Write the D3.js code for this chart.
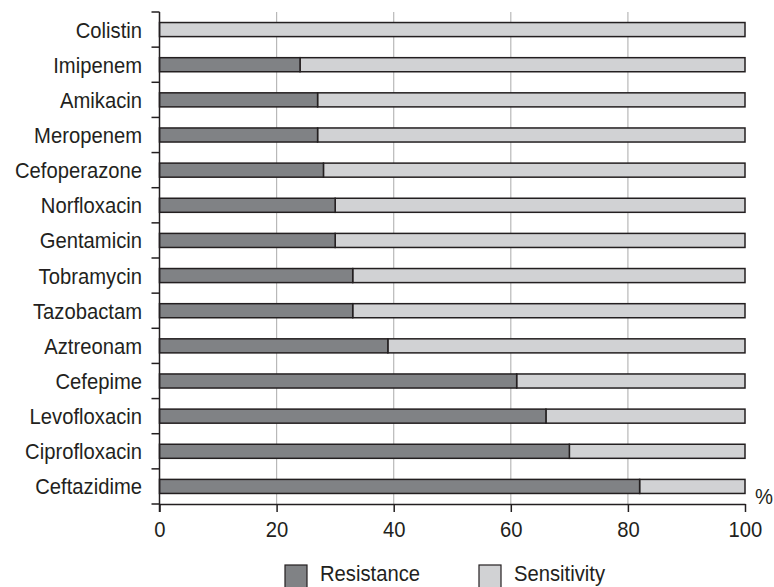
<!DOCTYPE html>
<html><head><meta charset="utf-8">
<script src="https://cdn.jsdelivr.net/npm/d3@7"></script>
<style>body{margin:0;background:#fff;overflow:hidden}svg{display:block}text{font-family:"Liberation Sans",Arial,sans-serif;fill:#231f20}</style>
</head><body><svg id="c" width="774" height="587"></svg>
<script>
const categories = ["Colistin","Imipenem","Amikacin","Meropenem","Cefoperazone","Norfloxacin","Gentamicin","Tobramycin","Tazobactam","Aztreonam","Cefepime","Levofloxacin","Ciprofloxacin","Ceftazidime"];
const resistance = [0,24,27,27,28,30,30,33,33,39,61,66,70,82];
const sensitivity = resistance.map(r => 100 - r);
const xTicks = [0,20,40,60,80,100];
const seriesNames = ["Resistance","Sensitivity"];
const colors = ["#808285","#d1d2d4"];

(function(){
const svg = d3.select("#c");
const FS = 22, SX = 0.92;
const left = 159.5, right = 745, pTop = 12, pBottom = 504;
const x = d3.scaleLinear().domain([0,100]).range([left,right]);
const y = d3.scaleBand().domain(categories).range([pTop,pBottom]).paddingInner(0.6).paddingOuter(0.3);
const yb = d3.scaleBand().domain(categories).range([pTop,pBottom]);

svg.append("g").selectAll("line").data(xTicks.filter(t=>t>0&&t<100)).join("line")
  .attr("x1",d=>x(d)).attr("x2",d=>x(d)).attr("y1",pTop).attr("y2",pBottom)
  .attr("stroke","#b8b8b8").attr("stroke-width",1.2);

const rows = categories.map((c,i)=>({c, r:resistance[i], s:sensitivity[i]}));
const g = svg.append("g");
g.selectAll("rect.s").data(rows).join("rect").attr("class","s")
  .attr("x",d=>x(d.r)).attr("width",d=>x(100)-x(d.r))
  .attr("y",d=>y(d.c)).attr("height",y.bandwidth())
  .attr("fill",colors[1]).attr("stroke","#231f20").attr("stroke-width",1.5);
g.selectAll("rect.r").data(rows.filter(d=>d.r>0)).join("rect").attr("class","r")
  .attr("x",x(0)).attr("width",d=>x(d.r)-x(0))
  .attr("y",d=>y(d.c)).attr("height",y.bandwidth())
  .attr("fill",colors[0]).attr("stroke","#231f20").attr("stroke-width",1.5);

const ya = svg.append("g");
ya.append("line").attr("x1",left).attr("x2",left).attr("y1",pTop).attr("y2",pBottom+8).attr("stroke","#231f20").attr("stroke-width",1.5);
const bounds = categories.map(c=>yb(c)).concat([pBottom]);
ya.selectAll("line.t").data(bounds).join("line").attr("class","t")
  .attr("x1",left-8).attr("x2",left).attr("y1",d=>d).attr("y2",d=>d)
  .attr("stroke","#231f20").attr("stroke-width",1.5);
ya.selectAll("text").data(categories).join("text")
  .attr("transform",d=>`translate(${left-17.5},${yb(d)+yb.bandwidth()/2+8}) scale(${SX},1)`)
  .attr("text-anchor","end").attr("font-size",FS).text(d=>d);

const xa = svg.append("g").attr("transform",`translate(0,${pBottom})`)
  .call(d3.axisBottom(x).tickValues(xTicks).tickSize(8).tickPadding(9.5).tickSizeOuter(0));
xa.select(".domain").attr("stroke","#231f20").attr("stroke-width",1.5);
xa.selectAll(".tick line").attr("stroke","#231f20").attr("stroke-width",1.5);
xa.selectAll(".tick text").attr("font-size",FS).attr("font-family","Liberation Sans, Arial, sans-serif")
  .attr("fill","#231f20").attr("transform",`scale(${SX},1)`);
svg.append("text").attr("transform",`translate(755,504) scale(${SX},1)`).attr("font-size",FS).text("%");

const lg = svg.append("g");
const lx = [285, 479];
seriesNames.forEach((n,i)=>{
  lg.append("rect").attr("x",lx[i]).attr("y",565).attr("width",22).attr("height",24)
    .attr("fill",colors[i]).attr("stroke","#231f20").attr("stroke-width",1.2);
  lg.append("text").attr("transform",`translate(${lx[i]+35},581) scale(${SX},1)`).attr("font-size",FS).text(n);
});
})();
</script></body></html>
